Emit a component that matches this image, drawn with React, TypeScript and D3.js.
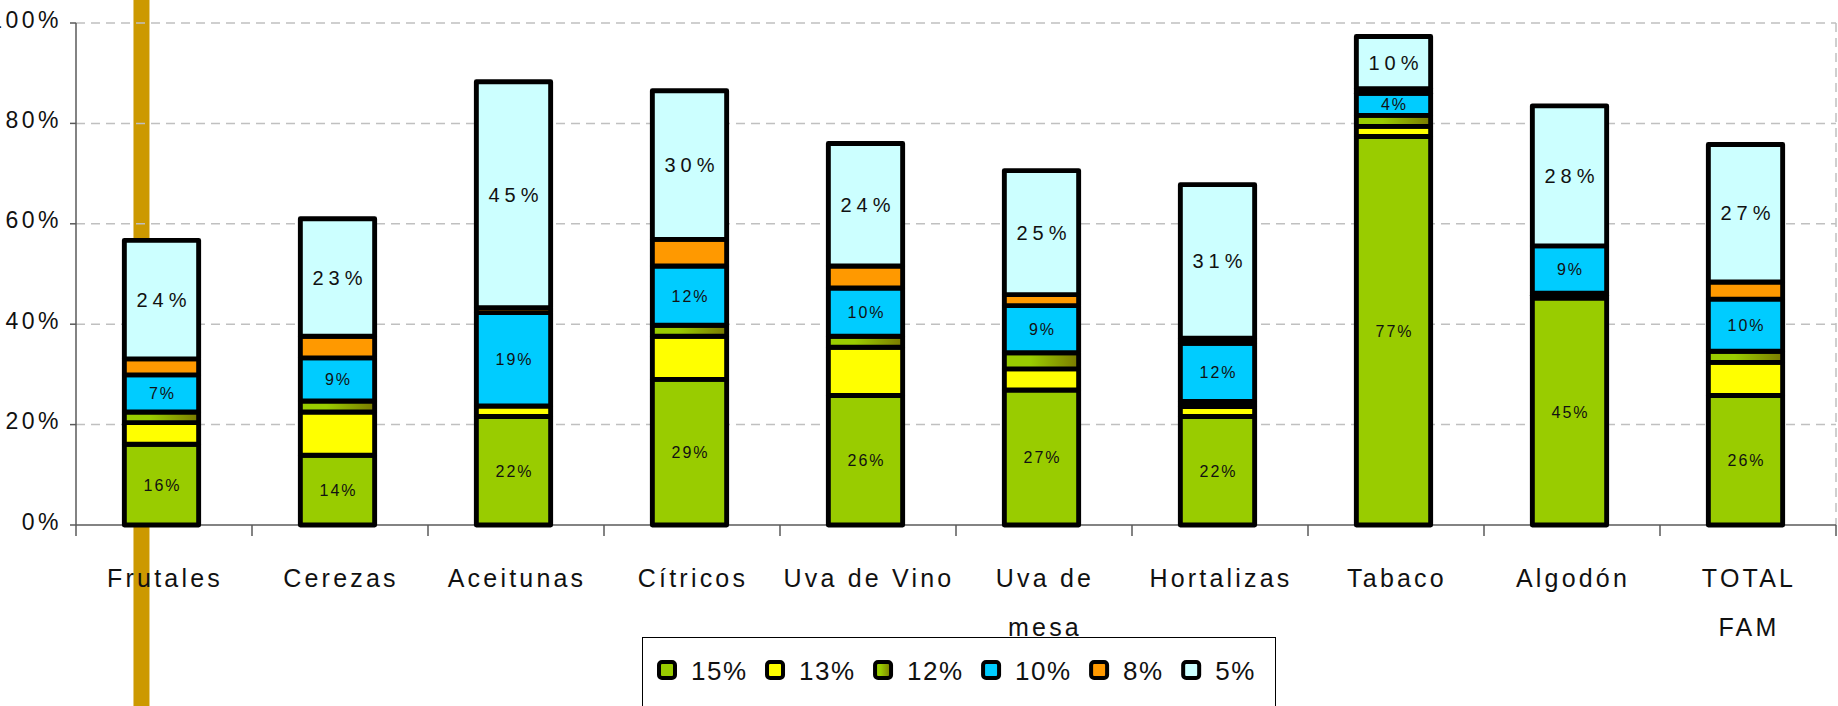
import React from "react";
import * as d3 from "d3";

// ---------- data ----------
const categories = [
  "Frutales", "Cerezas", "Aceitunas", "Cítricos", "Uva de Vino",
  "Uva de mesa", "Hortalizas", "Tabaco", "Algodón", "TOTAL FAM",
];
const categoryLines = [
  ["Frutales"], ["Cerezas"], ["Aceitunas"], ["Cítricos"], ["Uva de Vino"],
  ["Uva de", "mesa"], ["Hortalizas"], ["Tabaco"], ["Algodón"], ["TOTAL", "FAM"],
];
const seriesNames = ["15%", "13%", "12%", "10%", "8%", "5%"];
const values15 = [16.1, 13.9, 21.6, 29.0, 25.8, 26.9, 21.6, 77.4, 45.2, 25.8];
const values13 = [4.3, 8.6, 2.1, 8.6, 9.6, 4.2, 2.0, 2.0, 0.5, 6.6];
const values12 = [2.1, 2.2, 0.0, 2.2, 2.2, 3.2, 1.0, 2.2, 0.5, 2.2];
const values10 = [7.4, 8.6, 18.6, 11.8, 9.6, 9.4, 11.6, 4.4, 9.4, 10.4];
const values8 = [3.2, 4.3, 1.0, 5.3, 4.4, 2.2, 1.0, 0.9, 0.0, 3.4];
const values5 = [23.6, 23.4, 45.0, 29.6, 24.4, 24.7, 30.6, 10.4, 27.9, 27.4];
const labeledSeries = ["15%", "10%", "5%"];
const yTicks = [0, 20, 40, 60, 80, 100];

const seriesColors: Record<string, string> = {
  "15%": "#99CC00",
  "13%": "#FFFF00",
  "12%": "url(#oliveGrad)",
  "10%": "#00CCFF",
  "8%": "#FF9900",
  "5%": "#CCFFFF",
};

const FONT = "'Liberation Sans', Arial, sans-serif";

export default function App() {
  const W = 1838, H = 706;
  const left = 76, right = 1836, top = 23, bottom = 525;

  const x = d3.scaleBand<string>().domain(categories).range([left, right]).padding(0);
  const y = d3.scaleLinear().domain([0, 100]).range([bottom, top]);
  const barW = 74.3;
  const barShift = -2.5;

  const rows = categories.map((c, i) => ({
    cat: c,
    "15%": values15[i],
    "13%": values13[i],
    "12%": values12[i],
    "10%": values10[i],
    "8%": values8[i],
    "5%": values5[i],
  }));
  const stacked = d3.stack<any>().keys(seriesNames)(rows);

  const barX = (c: string) => (x(c) as number) + x.bandwidth() / 2 + barShift - barW / 2;

  // legend layout
  const legendFont = 26;
  const charW = (ch: string) => (ch === "%" ? 0.889 : 0.556);
  const textWidth = (s: string) =>
    s.split("").reduce((a, ch) => a + charW(ch), 0) * legendFont + 1.5 * (s.length - 1);
  let lx = 657;
  const legendItems = seriesNames.map((s) => {
    const item = { name: s, x: lx };
    lx += 20 + 14 + textWidth(s) + 19;
    return item;
  });

  // decorative vertical marker near first category
  const markerX = (x("Frutales") as number) + x.bandwidth() * 0.372;

  return (
    <div style={{ position: "absolute", left: 0, top: 0 }}>
      <style>{`body{margin:0}`}</style>
      <svg width={W} height={H} style={{ display: "block", background: "#fff" }} fontFamily={FONT}>
        <defs>
          <linearGradient id="oliveGrad" x1="0" x2="1" y1="0" y2="0">
            <stop offset="0" stopColor="#99CC00" />
            <stop offset="0.35" stopColor="#99CC00" />
            <stop offset="1" stopColor="#7A7A00" />
          </linearGradient>
        </defs>
        <rect x={0} y={0} width={W} height={H} fill="#fff" />

        {/* vertical marker */}
        <rect x={markerX - 8} y={0} width={16} height={H} fill="#CC9900" />

        {/* gridlines */}
        {yTicks.filter((t) => t > 0).map((t) => (
          <line key={t} x1={left} x2={right} y1={y(t)} y2={y(t)}
            stroke="#C0C0C0" strokeWidth={1.5} strokeDasharray="9,6" />
        ))}
        <line x1={right} x2={right} y1={top} y2={bottom}
          stroke="#C0C0C0" strokeWidth={1.5} strokeDasharray="9,6" />

        {/* y axis */}
        <line x1={left} x2={left} y1={top} y2={bottom} stroke="#5A5A5A" strokeWidth={1.5} />
        {yTicks.map((t) => (
          <g key={t}>
            <line x1={left - 6} x2={left} y1={y(t)} y2={y(t)} stroke="#5A5A5A" strokeWidth={1.5} />
            <text x={62} y={y(t) + 4.5} textAnchor="end" fontSize={23} letterSpacing={3.5} fill="#111">
              {t}%
            </text>
          </g>
        ))}

        {/* x axis */}
        <line x1={left} x2={right} y1={bottom} y2={bottom} stroke="#5A5A5A" strokeWidth={1.5} />
        {[...categories.map((c) => x(c) as number), right].map((tx, i) => (
          <line key={i} x1={tx} x2={tx} y1={bottom} y2={bottom + 11} stroke="#5A5A5A" strokeWidth={1.5} />
        ))}
        {categories.map((c, i) => (
          <text key={c} textAnchor="middle" fontSize={25} letterSpacing={3.2} fill="#111">
            {categoryLines[i].map((ln, j) => (
              <tspan key={j} x={(x(c) as number) + x.bandwidth() / 2 + 1} y={587 + j * 48.5}>{ln}</tspan>
            ))}
          </text>
        ))}

        {/* bars */}
        {stacked.map((layer) => (
          <g key={layer.key}>
            {layer.map((d, i) => {
              const h = y(d[0]) - y(d[1]);
              if (d[1] - d[0] <= 0) return null;
              return (
                <rect key={i} x={barX(categories[i])} y={y(d[1])} width={barW} height={h}
                  fill={seriesColors[layer.key]} stroke="#000" strokeWidth={4.9} strokeLinejoin="round" />
              );
            })}
          </g>
        ))}

        {/* value labels */}
        {stacked.filter((l) => labeledSeries.includes(l.key)).map((layer) => (
          <g key={layer.key}>
            {layer.map((d, i) => {
              const v = d[1] - d[0];
              if (v <= 0) return null;
              const cy = (y(d[0]) + y(d[1])) / 2;
              const big = layer.key === "5%";
              return (
                <text key={i} x={barX(categories[i]) + barW / 2 + (big ? 2.5 : 1)} y={cy}
                  dy={big ? 7 : 6} textAnchor="middle" fontSize={big ? 20 : 16}
                  letterSpacing={big ? 5 : 2} fill="#111">
                  {Math.round(v)}%
                </text>
              );
            })}
          </g>
        ))}

        {/* legend */}
        <rect x={642.5} y={637.5} width={633} height={120} fill="#fff" stroke="#000" strokeWidth={1} />
        {legendItems.map((it) => (
          <g key={it.name}>
            <rect x={it.x + 2} y={662} width={16} height={16} rx={3} fill={seriesColors[it.name]}
              stroke="#000" strokeWidth={4} />
            <text x={it.x + 34} y={680} fontSize={legendFont} letterSpacing={1.5} fill="#111">{it.name}</text>
          </g>
        ))}
      </svg>
    </div>
  );
}
